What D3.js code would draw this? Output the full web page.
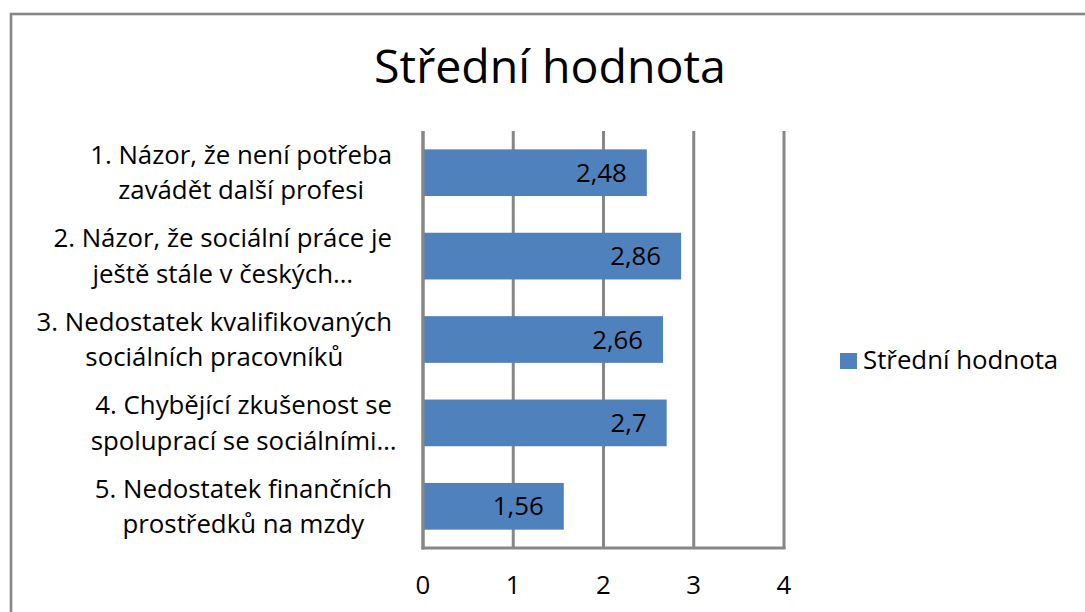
<!DOCTYPE html>
<html><head><meta charset="utf-8">
<script src="https://cdn.jsdelivr.net/npm/d3@7"></script>
<style>html,body{margin:0;padding:0;background:#fff;overflow:hidden}</style>
</head><body>
<svg id="chart" width="1085" height="612"></svg>
<script>
const title = "Střední hodnota";
const seriesName = "Střední hodnota";
const categories = [
  ["1. Názor, že není potřeba", "zavádět další profesi"],
  ["2. Názor, že sociální práce je", "ještě stále v českých…"],
  ["3. Nedostatek kvalifikovaných", "sociálních pracovníků"],
  ["4. Chybějící zkušenost se", "spoluprací se sociálními…"],
  ["5. Nedostatek finančních", "prostředků na mzdy"]
];
const values = [2.48, 2.86, 2.66, 2.7, 1.56];
const xTicks = [0, 1, 2, 3, 4];

const FONT = "'Open Sans', sans-serif";
const FS = 25.8;
const LINE = 35.5;
const svg = d3.select("#chart");
const grid = "#878787";

// outer frame
svg.append("rect").attr("x", 11).attr("y", 14).attr("width", 1200).attr("height", 800)
  .attr("fill", "#fff").attr("stroke", grid).attr("stroke-width", 2.6);

const x = d3.scaleLinear().domain([0, 4]).range([423, 784]);
const y = d3.scaleBand().domain(d3.range(categories.length)).range([131, 548])
  .paddingInner(0.44).paddingOuter(0.22);

// title
svg.append("text").attr("x", 550).attr("y", 83).attr("text-anchor", "middle")
  .attr("font-family", FONT).attr("font-size", 46.5).attr("fill", "#000").text(title);

// gridlines
svg.append("g").selectAll("line").data(xTicks).join("line")
  .attr("x1", d => x(d)).attr("x2", d => x(d)).attr("y1", 131).attr("y2", 549)
  .attr("stroke", grid).attr("stroke-width", 3);

// bars
svg.append("g").selectAll("rect").data(values).join("rect")
  .attr("x", x(0)).attr("y", (d, i) => y(i))
  .attr("width", d => x(d) - x(0)).attr("height", y.bandwidth())
  .attr("fill", "#4F81BD");

// axis lines
svg.append("line").attr("x1", x(0)).attr("x2", x(0)).attr("y1", 131).attr("y2", 549.5)
  .attr("stroke", grid).attr("stroke-width", 3);
svg.append("line").attr("x1", x(0) - 1.5).attr("x2", x(4) + 1.5).attr("y1", 548).attr("y2", 548)
  .attr("stroke", grid).attr("stroke-width", 3);

// value labels
svg.append("g").selectAll("text").data(values).join("text")
  .attr("x", d => x(d) - 20).attr("y", (d, i) => y(i) + y.bandwidth() / 2)
  .attr("dy", "0.35em").attr("text-anchor", "end")
  .attr("font-family", FONT).attr("font-size", FS).attr("fill", "#000")
  .text(d => String(d).replace(".", ","));

// x tick labels
svg.append("g").selectAll("text").data(xTicks).join("text")
  .attr("x", d => x(d)).attr("y", 594).attr("text-anchor", "middle")
  .attr("font-family", FONT).attr("font-size", FS).attr("fill", "#000")
  .text(d => d);

// category labels
const catG = svg.append("g");
categories.forEach((lines, i) => {
  const t = catG.append("text").attr("font-family", FONT).attr("font-size", FS)
    .attr("fill", "#000").attr("text-anchor", "middle");
  const cy = y(i) + y.bandwidth() / 2;
  const spans = lines.map((ln, j) => t.append("tspan").attr("y", cy + (j - 0.5) * LINE + 9).text(ln));
  const w1 = spans[0].node().getComputedTextLength();
  const cx = 392 - w1 / 2;
  spans.forEach(s => s.attr("x", cx));
});

// legend
svg.append("rect").attr("x", 840).attr("y", 353).attr("width", 17).attr("height", 16).attr("fill", "#4F81BD");
svg.append("text").attr("x", 863).attr("y", 369).attr("font-family", FONT).attr("font-size", FS)
  .attr("fill", "#000").text(seriesName);
</script>
</body></html>
